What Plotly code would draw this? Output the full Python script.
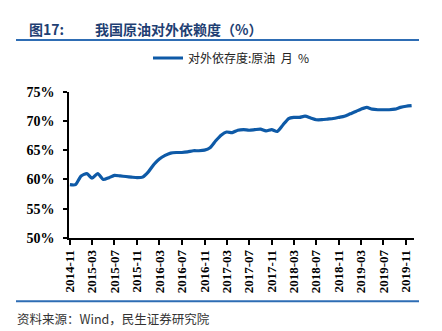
import pandas as pd
import plotly.graph_objects as go

# ---- data ----
start_month = "2014-11-01"
dependence = [59.1, 59.1, 60.6, 61.0, 60.2, 61.0, 60.0, 60.3, 60.7, 60.6,
              60.5, 60.4, 60.3, 60.4, 61.3, 62.6, 63.5, 64.1, 64.5, 64.6,
              64.6, 64.7, 64.9, 64.9, 65.0, 65.4, 66.6, 67.6, 68.1, 68.0,
              68.4, 68.5, 68.4, 68.5, 68.6, 68.3, 68.5, 68.2, 69.3, 70.4,
              70.6, 70.6, 70.8, 70.5, 70.2, 70.2, 70.3, 70.4, 70.6, 70.8,
              71.2, 71.6, 72.0, 72.3, 72.0, 71.9, 71.9, 71.9, 72.0, 72.3,
              72.5, 72.6]
months = pd.date_range(start_month, periods=len(dependence), freq="MS")
x_tick_labels = ["2014-11", "2015-03", "2015-07", "2015-11", "2016-03", "2016-07",
                 "2016-11", "2017-03", "2017-07", "2017-11", "2018-03", "2018-07",
                 "2018-11", "2019-03", "2019-07", "2019-11"]
y_ticks = [50, 55, 60, 65, 70, 75]
y_tick_labels = ["50%", "55%", "60%", "65%", "70%", "75%"]
series_name = "对外依存度:原油\u00a0\u00a0月\u00a0\u00a0%"
title_num = "图17:"
title_text = "我国原油对外依赖度（%）"
source_text = "资料来源：Wind，民生证券研究院"

W, H = 442, 331
L, R, T, B = 69, 28, 85, 93
PW, PH = W - L - R, H - T - B

def px(x):
    return (x - L) / PW

def py(y):
    return (H - B - y) / PH

fig = go.Figure()
fig.add_trace(go.Scatter(
    x=months, y=dependence, mode="lines", name=series_name,
    line=dict(color="#0E5AA7", width=3.2, shape="spline", smoothing=0.6),
))

serif = "Liberation Serif"
cjk = "Noto Sans CJK SC"

fig.update_layout(
    width=W, height=H,
    margin=dict(l=L, r=R, t=T, b=B, pad=0),
    paper_bgcolor="white", plot_bgcolor="white",
    showlegend=True,
    legend=dict(
        orientation="h", xref="container", yref="container",
        x=148 / W, xanchor="left", y=1 - 58 / H, yanchor="middle",
        font=dict(family=cjk, size=12, color="#222222"),
        bgcolor="rgba(0,0,0,0)", borderwidth=0,
    ),
    xaxis=dict(
        type="date",
        range=["2014-10-27", "2019-12-14"],
        tickvals=[pd.Timestamp(s + "-01") for s in x_tick_labels],
        ticktext=x_tick_labels,
        tickangle=-90,
        showline=True, linecolor="black", linewidth=1.5,
        ticks="outside", ticklen=5, tickcolor="black", tickwidth=1.5,
        showgrid=False, zeroline=False,
        tickfont=dict(family=serif, size=13, color="black", weight="bold"),
    ),
    yaxis=dict(
        range=[50, 75],
        tickvals=y_ticks, ticktext=y_tick_labels,
        showline=True, linecolor="black", linewidth=1.5,
        ticks="outside", ticklen=4, tickcolor="black", tickwidth=1.5,
        ticklabelstandoff=6,
        showgrid=False, zeroline=False,
        tickfont=dict(family=serif, size=14, color="black", weight="bold"),
    ),
)

# title and rules
fig.add_annotation(xref="paper", yref="paper", x=px(27), y=py(20),
                   xanchor="left", yanchor="middle", showarrow=False,
                   text=f"<b>{title_num}</b>",
                   font=dict(family=cjk, size=14, color="#1F3F73"))
fig.add_annotation(xref="paper", yref="paper", x=px(93), y=py(20),
                   xanchor="left", yanchor="middle", showarrow=False,
                   text=f"<b>{title_text}</b>",
                   font=dict(family=cjk, size=14, color="#1F3F73"))
fig.add_shape(type="line", xref="paper", yref="paper",
              x0=px(16), x1=px(419), y0=py(31), y1=py(31),
              line=dict(color="#2E6DB4", width=2))
fig.add_shape(type="line", xref="paper", yref="paper",
              x0=px(16), x1=px(419), y0=py(304), y1=py(304),
              line=dict(color="#2E6DB4", width=2))
fig.add_annotation(xref="paper", yref="paper", x=px(15), y=py(322),
                   xanchor="left", yanchor="middle", showarrow=False,
                   text=source_text,
                   font=dict(family=cjk, size=12.5, color="#333333"))

fig.write_html("out.html")
